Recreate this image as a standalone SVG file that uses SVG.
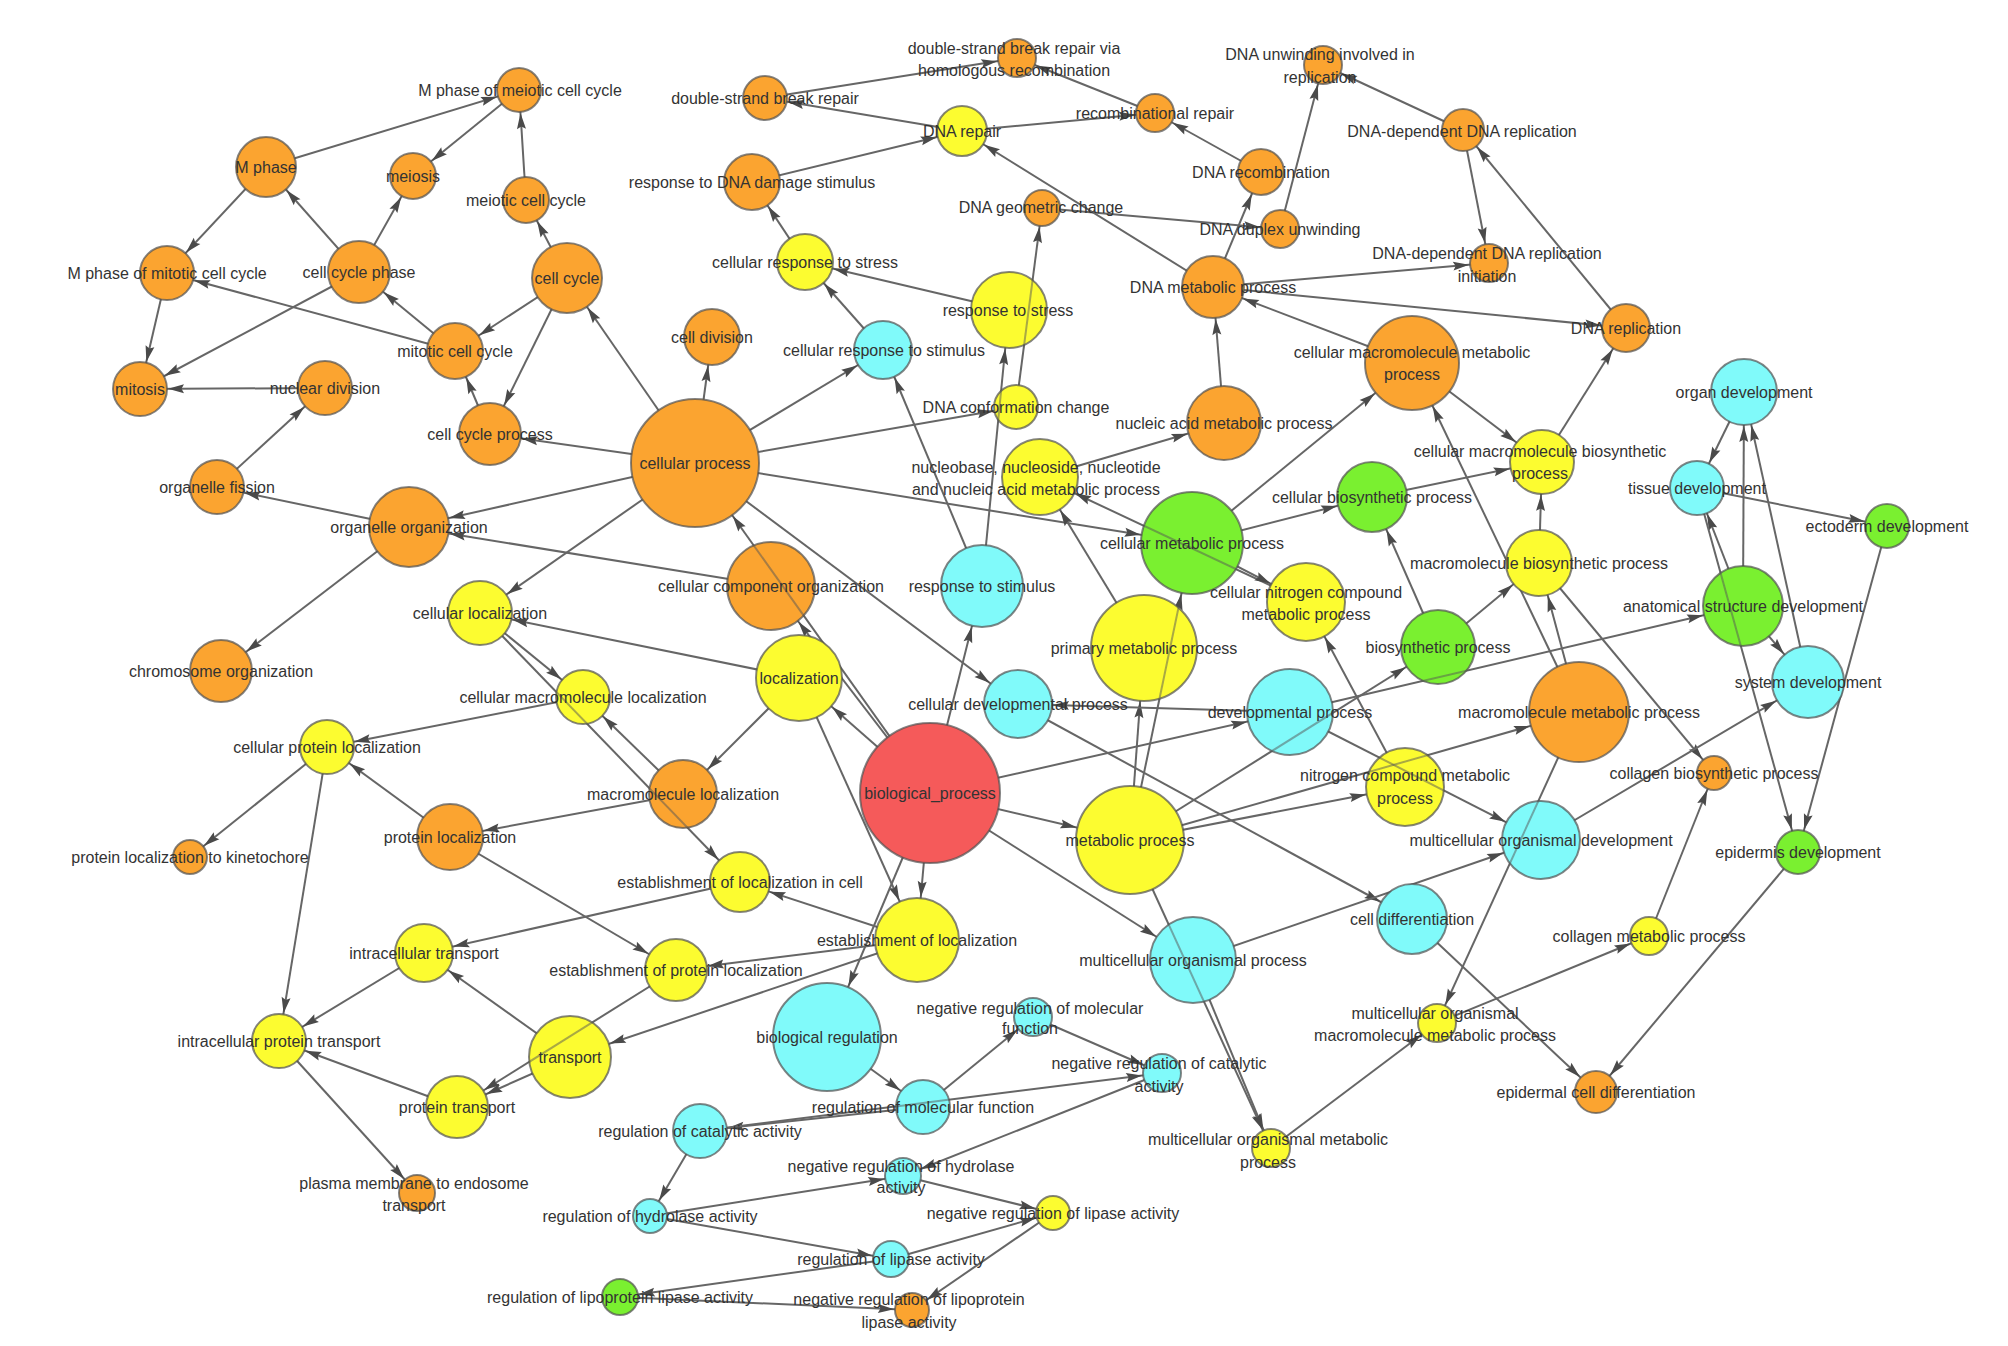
<svg xmlns="http://www.w3.org/2000/svg" xmlns:xlink="http://www.w3.org/1999/xlink" width="2008" height="1346" viewBox="0 0 2008 1346">
<style>
circle{stroke:#505050;stroke-opacity:.7;stroke-width:2}
.o{fill:#FBA430}.y{fill:#FCFC30}.c{fill:#80FAFA}.g{fill:#7AF030}.r{fill:#F55A5A}
text{font-family:"Liberation Sans",Arial,sans-serif;font-size:16px;fill:#333;text-anchor:middle}
#edges line{stroke:#666;stroke-width:2;fill:none}
line.pt{stroke:#555;stroke-width:2;stroke-opacity:.5}
</style>
<defs>
<path id="ah" d="M0,0.5 L16,5 L0,9.5 L2.5,5 z" fill="#4a4a4a"/>
<marker id="m17" markerUnits="userSpaceOnUse" markerWidth="16" markerHeight="10" refX="34" refY="5" orient="auto" overflow="visible"><use xlink:href="#ah"/></marker>
<marker id="m18" markerUnits="userSpaceOnUse" markerWidth="16" markerHeight="10" refX="35" refY="5" orient="auto" overflow="visible"><use xlink:href="#ah"/></marker>
<marker id="m19" markerUnits="userSpaceOnUse" markerWidth="16" markerHeight="10" refX="36" refY="5" orient="auto" overflow="visible"><use xlink:href="#ah"/></marker>
<marker id="m21" markerUnits="userSpaceOnUse" markerWidth="16" markerHeight="10" refX="38" refY="5" orient="auto" overflow="visible"><use xlink:href="#ah"/></marker>
<marker id="m22" markerUnits="userSpaceOnUse" markerWidth="16" markerHeight="10" refX="39" refY="5" orient="auto" overflow="visible"><use xlink:href="#ah"/></marker>
<marker id="m23" markerUnits="userSpaceOnUse" markerWidth="16" markerHeight="10" refX="40" refY="5" orient="auto" overflow="visible"><use xlink:href="#ah"/></marker>
<marker id="m24" markerUnits="userSpaceOnUse" markerWidth="16" markerHeight="10" refX="41" refY="5" orient="auto" overflow="visible"><use xlink:href="#ah"/></marker>
<marker id="m25" markerUnits="userSpaceOnUse" markerWidth="16" markerHeight="10" refX="42" refY="5" orient="auto" overflow="visible"><use xlink:href="#ah"/></marker>
<marker id="m27" markerUnits="userSpaceOnUse" markerWidth="16" markerHeight="10" refX="44" refY="5" orient="auto" overflow="visible"><use xlink:href="#ah"/></marker>
<marker id="m28" markerUnits="userSpaceOnUse" markerWidth="16" markerHeight="10" refX="45" refY="5" orient="auto" overflow="visible"><use xlink:href="#ah"/></marker>
<marker id="m29" markerUnits="userSpaceOnUse" markerWidth="16" markerHeight="10" refX="46" refY="5" orient="auto" overflow="visible"><use xlink:href="#ah"/></marker>
<marker id="m30" markerUnits="userSpaceOnUse" markerWidth="16" markerHeight="10" refX="47" refY="5" orient="auto" overflow="visible"><use xlink:href="#ah"/></marker>
<marker id="m31" markerUnits="userSpaceOnUse" markerWidth="16" markerHeight="10" refX="48" refY="5" orient="auto" overflow="visible"><use xlink:href="#ah"/></marker>
<marker id="m32" markerUnits="userSpaceOnUse" markerWidth="16" markerHeight="10" refX="49" refY="5" orient="auto" overflow="visible"><use xlink:href="#ah"/></marker>
<marker id="m33" markerUnits="userSpaceOnUse" markerWidth="16" markerHeight="10" refX="50" refY="5" orient="auto" overflow="visible"><use xlink:href="#ah"/></marker>
<marker id="m34" markerUnits="userSpaceOnUse" markerWidth="16" markerHeight="10" refX="51" refY="5" orient="auto" overflow="visible"><use xlink:href="#ah"/></marker>
<marker id="m35" markerUnits="userSpaceOnUse" markerWidth="16" markerHeight="10" refX="52" refY="5" orient="auto" overflow="visible"><use xlink:href="#ah"/></marker>
<marker id="m36" markerUnits="userSpaceOnUse" markerWidth="16" markerHeight="10" refX="53" refY="5" orient="auto" overflow="visible"><use xlink:href="#ah"/></marker>
<marker id="m37" markerUnits="userSpaceOnUse" markerWidth="16" markerHeight="10" refX="54" refY="5" orient="auto" overflow="visible"><use xlink:href="#ah"/></marker>
<marker id="m38" markerUnits="userSpaceOnUse" markerWidth="16" markerHeight="10" refX="55" refY="5" orient="auto" overflow="visible"><use xlink:href="#ah"/></marker>
<marker id="m39" markerUnits="userSpaceOnUse" markerWidth="16" markerHeight="10" refX="56" refY="5" orient="auto" overflow="visible"><use xlink:href="#ah"/></marker>
<marker id="m40" markerUnits="userSpaceOnUse" markerWidth="16" markerHeight="10" refX="57" refY="5" orient="auto" overflow="visible"><use xlink:href="#ah"/></marker>
<marker id="m41" markerUnits="userSpaceOnUse" markerWidth="16" markerHeight="10" refX="58" refY="5" orient="auto" overflow="visible"><use xlink:href="#ah"/></marker>
<marker id="m42" markerUnits="userSpaceOnUse" markerWidth="16" markerHeight="10" refX="59" refY="5" orient="auto" overflow="visible"><use xlink:href="#ah"/></marker>
<marker id="m43" markerUnits="userSpaceOnUse" markerWidth="16" markerHeight="10" refX="60" refY="5" orient="auto" overflow="visible"><use xlink:href="#ah"/></marker>
<marker id="m44" markerUnits="userSpaceOnUse" markerWidth="16" markerHeight="10" refX="61" refY="5" orient="auto" overflow="visible"><use xlink:href="#ah"/></marker>
<marker id="m47" markerUnits="userSpaceOnUse" markerWidth="16" markerHeight="10" refX="64" refY="5" orient="auto" overflow="visible"><use xlink:href="#ah"/></marker>
<marker id="m50" markerUnits="userSpaceOnUse" markerWidth="16" markerHeight="10" refX="67" refY="5" orient="auto" overflow="visible"><use xlink:href="#ah"/></marker>
<marker id="m51" markerUnits="userSpaceOnUse" markerWidth="16" markerHeight="10" refX="68" refY="5" orient="auto" overflow="visible"><use xlink:href="#ah"/></marker>
<marker id="m53" markerUnits="userSpaceOnUse" markerWidth="16" markerHeight="10" refX="70" refY="5" orient="auto" overflow="visible"><use xlink:href="#ah"/></marker>
<marker id="m54" markerUnits="userSpaceOnUse" markerWidth="16" markerHeight="10" refX="71" refY="5" orient="auto" overflow="visible"><use xlink:href="#ah"/></marker>
<marker id="m64" markerUnits="userSpaceOnUse" markerWidth="16" markerHeight="10" refX="81" refY="5" orient="auto" overflow="visible"><use xlink:href="#ah"/></marker>
<clipPath id="k-ccorg"><circle cx="771" cy="586" r="44"/></clipPath>
<clipPath id="k-cml"><circle cx="583" cy="697" r="27"/></clipPath>
<clipPath id="k-ml"><circle cx="683" cy="794" r="34"/></clipPath>
<clipPath id="k-transport"><circle cx="570" cy="1057" r="41"/></clipPath>
<clipPath id="k-pmp"><circle cx="1144" cy="648" r="53"/></clipPath>
<clipPath id="k-devp"><circle cx="1290" cy="712" r="43"/></clipPath>
<clipPath id="k-ncmp"><circle cx="1405" cy="787" r="39"/></clipPath>
<clipPath id="k-mod"><circle cx="1541" cy="840" r="39"/></clipPath>
<clipPath id="k-mop"><circle cx="1193" cy="960" r="43"/></clipPath>
<clipPath id="k-asd"><circle cx="1743" cy="606" r="40"/></clipPath>
<clipPath id="k-cmp"><circle cx="1192" cy="543" r="51"/></clipPath>
<clipPath id="k-rmf"><circle cx="923" cy="1107" r="27"/></clipPath>
<clipPath id="k-biosyn"><circle cx="1438" cy="647" r="37"/></clipPath>
<clipPath id="k-rstress"><circle cx="1009" cy="310" r="38"/></clipPath>
<clipPath id="k-dnaconf"><circle cx="1016" cy="407" r="22"/></clipPath>
</defs>
<rect width="2008" height="1346" fill="#fff"/>
<g id="edges">
<line x1="266" y1="167" x2="519" y2="90" marker-end="url(#m22)"/>
<line x1="519" y1="90" x2="413" y2="176" marker-end="url(#m23)"/>
<line x1="526" y1="200" x2="519" y2="90" marker-end="url(#m22)"/>
<line x1="266" y1="167" x2="167" y2="273" marker-end="url(#m27)"/>
<line x1="359" y1="272" x2="266" y2="167" marker-end="url(#m30)"/>
<line x1="359" y1="272" x2="413" y2="176" marker-end="url(#m23)"/>
<line x1="359" y1="272" x2="140" y2="389" marker-end="url(#m27)"/>
<line x1="455" y1="351" x2="167" y2="273" marker-end="url(#m27)"/>
<line x1="455" y1="351" x2="359" y2="272" marker-end="url(#m31)"/>
<line x1="167" y1="273" x2="140" y2="389" marker-end="url(#m27)"/>
<line x1="325" y1="388" x2="140" y2="389" marker-end="url(#m27)"/>
<line x1="217" y1="487" x2="325" y2="388" marker-end="url(#m27)"/>
<line x1="567" y1="278" x2="526" y2="200" marker-end="url(#m23)"/>
<line x1="567" y1="278" x2="455" y2="351" marker-end="url(#m28)"/>
<line x1="567" y1="278" x2="490" y2="434" marker-end="url(#m31)"/>
<line x1="490" y1="434" x2="455" y2="351" marker-end="url(#m28)"/>
<line x1="695" y1="463" x2="567" y2="278" marker-end="url(#m35)"/>
<line x1="695" y1="463" x2="712" y2="337" marker-end="url(#m28)"/>
<line x1="695" y1="463" x2="490" y2="434" marker-end="url(#m31)"/>
<line x1="695" y1="463" x2="883" y2="350" marker-end="url(#m29)"/>
<line x1="695" y1="463" x2="1016" y2="407" marker-end="url(#m22)"/>
<line x1="695" y1="463" x2="409" y2="527" marker-end="url(#m40)"/>
<line x1="771" y1="586" x2="409" y2="527" marker-end="url(#m40)"/>
<line x1="409" y1="527" x2="217" y2="487" marker-end="url(#m27)"/>
<line x1="409" y1="527" x2="221" y2="671" marker-end="url(#m31)"/>
<line x1="695" y1="463" x2="480" y2="613" marker-end="url(#m32)"/>
<line x1="695" y1="463" x2="1192" y2="543" marker-end="url(#m51)"/>
<line x1="695" y1="463" x2="1018" y2="704" marker-end="url(#m34)"/>
<line x1="930" y1="793" x2="695" y2="463" marker-end="url(#m64)"/>
<line x1="930" y1="793" x2="771" y2="586" marker-end="url(#m44)"/>
<line x1="799" y1="678" x2="480" y2="613" marker-end="url(#m32)"/>
<line x1="480" y1="613" x2="583" y2="697" marker-end="url(#m27)"/>
<line x1="480" y1="613" x2="740" y2="882" marker-end="url(#m30)"/>
<line x1="683" y1="794" x2="583" y2="697" marker-end="url(#m27)"/>
<line x1="799" y1="678" x2="683" y2="794" marker-end="url(#m34)"/>
<line x1="683" y1="794" x2="450" y2="837" marker-end="url(#m33)"/>
<line x1="450" y1="837" x2="327" y2="747" marker-end="url(#m27)"/>
<line x1="583" y1="697" x2="327" y2="747" marker-end="url(#m27)"/>
<line x1="327" y1="747" x2="190" y2="857" marker-end="url(#m17)"/>
<line x1="327" y1="747" x2="279" y2="1041" marker-end="url(#m27)"/>
<line x1="450" y1="837" x2="676" y2="970" marker-end="url(#m31)"/>
<line x1="740" y1="882" x2="424" y2="953" marker-end="url(#m29)"/>
<line x1="424" y1="953" x2="279" y2="1041" marker-end="url(#m27)"/>
<line x1="570" y1="1057" x2="424" y2="953" marker-end="url(#m29)"/>
<line x1="457" y1="1107" x2="279" y2="1041" marker-end="url(#m27)"/>
<line x1="279" y1="1041" x2="417" y2="1193" marker-end="url(#m18)"/>
<line x1="570" y1="1057" x2="457" y2="1107" marker-end="url(#m31)"/>
<line x1="676" y1="970" x2="457" y2="1107" marker-end="url(#m31)"/>
<line x1="917" y1="940" x2="676" y2="970" marker-end="url(#m31)"/>
<line x1="917" y1="940" x2="570" y2="1057" marker-end="url(#m41)"/>
<line x1="917" y1="940" x2="740" y2="882" marker-end="url(#m30)"/>
<line x1="799" y1="678" x2="917" y2="940" marker-end="url(#m42)"/>
<line x1="930" y1="793" x2="917" y2="940" marker-end="url(#m42)"/>
<line x1="930" y1="793" x2="827" y2="1037" marker-end="url(#m54)"/>
<line x1="930" y1="793" x2="799" y2="678" marker-end="url(#m43)"/>
<line x1="930" y1="793" x2="982" y2="586" marker-end="url(#m41)"/>
<line x1="930" y1="793" x2="1290" y2="712" marker-end="url(#m43)"/>
<line x1="930" y1="793" x2="1130" y2="840" marker-end="url(#m54)"/>
<line x1="930" y1="793" x2="1193" y2="960" marker-end="url(#m43)"/>
<line x1="827" y1="1037" x2="923" y2="1107" marker-end="url(#m27)"/>
<line x1="923" y1="1107" x2="700" y2="1131" marker-end="url(#m27)"/>
<line x1="700" y1="1131" x2="1162" y2="1073" marker-end="url(#m19)"/>
<line x1="923" y1="1107" x2="1033" y2="1017" marker-end="url(#m19)"/>
<line x1="1033" y1="1017" x2="1162" y2="1073" marker-end="url(#m19)"/>
<line x1="700" y1="1131" x2="650" y2="1216" marker-end="url(#m17)"/>
<line x1="650" y1="1216" x2="903" y2="1176" marker-end="url(#m18)"/>
<line x1="1162" y1="1073" x2="903" y2="1176" marker-end="url(#m18)"/>
<line x1="650" y1="1216" x2="891" y2="1259" marker-end="url(#m18)"/>
<line x1="903" y1="1176" x2="1053" y2="1213" marker-end="url(#m17)"/>
<line x1="891" y1="1259" x2="1053" y2="1213" marker-end="url(#m17)"/>
<line x1="891" y1="1259" x2="620" y2="1297" marker-end="url(#m18)"/>
<line x1="620" y1="1297" x2="912" y2="1310" marker-end="url(#m17)"/>
<line x1="1053" y1="1213" x2="912" y2="1310" marker-end="url(#m17)"/>
<line x1="962" y1="131" x2="765" y2="98" marker-end="url(#m22)"/>
<line x1="752" y1="182" x2="962" y2="131" marker-end="url(#m25)"/>
<line x1="1155" y1="113" x2="1017" y2="58" marker-end="url(#m19)"/>
<line x1="765" y1="98" x2="1017" y2="58" marker-end="url(#m19)"/>
<line x1="962" y1="131" x2="1155" y2="113" marker-end="url(#m19)"/>
<line x1="1261" y1="172" x2="1155" y2="113" marker-end="url(#m19)"/>
<line x1="1213" y1="287" x2="962" y2="131" marker-end="url(#m25)"/>
<line x1="805" y1="262" x2="752" y2="182" marker-end="url(#m28)"/>
<line x1="1009" y1="310" x2="805" y2="262" marker-end="url(#m28)"/>
<line x1="883" y1="350" x2="805" y2="262" marker-end="url(#m28)"/>
<line x1="982" y1="586" x2="883" y2="350" marker-end="url(#m29)"/>
<line x1="982" y1="586" x2="1009" y2="310" marker-end="url(#m38)"/>
<line x1="1016" y1="407" x2="1042" y2="208" marker-end="url(#m18)"/>
<line x1="1042" y1="208" x2="1280" y2="229" marker-end="url(#m19)"/>
<line x1="1213" y1="287" x2="1261" y2="172" marker-end="url(#m23)"/>
<line x1="1280" y1="229" x2="1323" y2="65" marker-end="url(#m19)"/>
<line x1="1463" y1="130" x2="1323" y2="65" marker-end="url(#m19)"/>
<line x1="1463" y1="130" x2="1489" y2="263" marker-end="url(#m19)"/>
<line x1="1626" y1="328" x2="1463" y2="130" marker-end="url(#m21)"/>
<line x1="1213" y1="287" x2="1489" y2="263" marker-end="url(#m19)"/>
<line x1="1213" y1="287" x2="1626" y2="328" marker-end="url(#m24)"/>
<line x1="1224" y1="423" x2="1213" y2="287" marker-end="url(#m31)"/>
<line x1="1412" y1="363" x2="1213" y2="287" marker-end="url(#m31)"/>
<line x1="1040" y1="477" x2="1224" y2="423" marker-end="url(#m37)"/>
<line x1="1192" y1="543" x2="1412" y2="363" marker-end="url(#m47)"/>
<line x1="1412" y1="363" x2="1542" y2="462" marker-end="url(#m32)"/>
<line x1="1542" y1="462" x2="1626" y2="328" marker-end="url(#m24)"/>
<line x1="1579" y1="712" x2="1412" y2="363" marker-end="url(#m47)"/>
<line x1="1579" y1="712" x2="1539" y2="563" marker-end="url(#m33)"/>
<line x1="1539" y1="563" x2="1542" y2="462" marker-end="url(#m32)"/>
<line x1="1372" y1="497" x2="1542" y2="462" marker-end="url(#m32)"/>
<line x1="1192" y1="543" x2="1372" y2="497" marker-end="url(#m35)"/>
<line x1="1438" y1="647" x2="1372" y2="497" marker-end="url(#m35)"/>
<line x1="1438" y1="647" x2="1539" y2="563" marker-end="url(#m33)"/>
<line x1="1306" y1="602" x2="1040" y2="477" marker-end="url(#m38)"/>
<line x1="1192" y1="543" x2="1306" y2="602" marker-end="url(#m39)"/>
<line x1="1144" y1="648" x2="1040" y2="477" marker-end="url(#m38)"/>
<line x1="1130" y1="840" x2="1144" y2="648" marker-end="url(#m53)"/>
<line x1="1130" y1="840" x2="1192" y2="543" marker-end="url(#m51)"/>
<line x1="1130" y1="840" x2="1438" y2="647" marker-end="url(#m37)"/>
<line x1="1130" y1="840" x2="1405" y2="787" marker-end="url(#m39)"/>
<line x1="1130" y1="840" x2="1579" y2="712" marker-end="url(#m50)"/>
<line x1="1405" y1="787" x2="1306" y2="602" marker-end="url(#m39)"/>
<line x1="1290" y1="712" x2="1541" y2="840" marker-end="url(#m39)"/>
<line x1="1290" y1="712" x2="1018" y2="704" marker-end="url(#m34)"/>
<line x1="1290" y1="712" x2="1743" y2="606" marker-end="url(#m40)"/>
<line x1="1018" y1="704" x2="1412" y2="919" marker-end="url(#m35)"/>
<line x1="1412" y1="919" x2="1596" y2="1092" marker-end="url(#m21)"/>
<line x1="1798" y1="852" x2="1596" y2="1092" marker-end="url(#m21)"/>
<line x1="1437" y1="1023" x2="1649" y2="936" marker-end="url(#m19)"/>
<line x1="1649" y1="936" x2="1714" y2="773" marker-end="url(#m17)"/>
<line x1="1539" y1="563" x2="1714" y2="773" marker-end="url(#m17)"/>
<line x1="1541" y1="840" x2="1808" y2="682" marker-end="url(#m36)"/>
<line x1="1579" y1="712" x2="1437" y2="1023" marker-end="url(#m19)"/>
<line x1="1271" y1="1148" x2="1437" y2="1023" marker-end="url(#m19)"/>
<line x1="1193" y1="960" x2="1271" y2="1148" marker-end="url(#m19)"/>
<line x1="1130" y1="840" x2="1271" y2="1148" marker-end="url(#m19)"/>
<line x1="1193" y1="960" x2="1541" y2="840" marker-end="url(#m39)"/>
<line x1="1743" y1="606" x2="1744" y2="392" marker-end="url(#m33)"/>
<line x1="1808" y1="682" x2="1744" y2="392" marker-end="url(#m33)"/>
<line x1="1744" y1="392" x2="1697" y2="488" marker-end="url(#m27)"/>
<line x1="1743" y1="606" x2="1697" y2="488" marker-end="url(#m27)"/>
<line x1="1697" y1="488" x2="1798" y2="852" marker-end="url(#m22)"/>
<line x1="1697" y1="488" x2="1887" y2="526" marker-end="url(#m22)"/>
<line x1="1887" y1="526" x2="1798" y2="852" marker-end="url(#m22)"/>
<line x1="1743" y1="606" x2="1808" y2="682" marker-end="url(#m36)"/>
</g>
<g id="nodes">
<g id="n-m-phase-of-meiotic-cell-cycle"><circle class="o" cx="519" cy="90" r="22"/><text x="520" y="95.5">M phase of meiotic cell cycle</text></g>
<g id="n-m-phase"><circle class="o" cx="266" cy="167" r="30"/><text x="266" y="172.5">M phase</text></g>
<g id="n-meiosis"><circle class="o" cx="413" cy="176" r="23"/><text x="413" y="181.5">meiosis</text></g>
<g id="n-meiotic-cell-cycle"><circle class="o" cx="526" cy="200" r="23"/><text x="526" y="205.5">meiotic cell cycle</text></g>
<g id="n-m-phase-of-mitotic-cell-cycle"><circle class="o" cx="167" cy="273" r="27"/><text x="167" y="278.5">M phase of mitotic cell cycle</text></g>
<g id="n-cell-cycle-phase"><circle class="o" cx="359" cy="272" r="31"/><text x="359" y="277.5">cell cycle phase</text></g>
<g id="n-cell-cycle"><circle class="o" cx="567" cy="278" r="35"/><text x="567" y="283.5">cell cycle</text></g>
<g id="n-mitosis"><circle class="o" cx="140" cy="389" r="27"/><text x="140" y="394.5">mitosis</text></g>
<g id="n-nuclear-division"><circle class="o" cx="325" cy="388" r="27"/><text x="325" y="393.5">nuclear division</text></g>
<g id="n-mitotic-cell-cycle"><circle class="o" cx="455" cy="351" r="28"/><text x="455" y="356.5">mitotic cell cycle</text></g>
<g id="n-cell-cycle-process"><circle class="o" cx="490" cy="434" r="31"/><text x="490" y="439.5">cell cycle process</text></g>
<g id="n-cell-division"><circle class="o" cx="712" cy="337" r="28"/><text x="712" y="342.5">cell division</text></g>
<g id="n-cellular-process"><circle class="o" cx="695" cy="463" r="64"/><text x="695" y="468.5">cellular process</text></g>
<g id="n-organelle-fission"><circle class="o" cx="217" cy="487" r="27"/><text x="217" y="492.5">organelle fission</text></g>
<g id="n-organelle-organization"><circle class="o" cx="409" cy="527" r="40"/><text x="409" y="532.5">organelle organization</text></g>
<g id="n-chromosome-organization"><circle class="o" cx="221" cy="671" r="31"/><text x="221" y="676.5">chromosome organization</text></g>
<g id="n-cellular-localization"><circle class="y" cx="480" cy="613" r="32"/><text x="480" y="618.5">cellular localization</text></g>
<g id="n-cellular-component-organization"><circle class="o" cx="771" cy="586" r="44"/><line class="pt" x1="930" y1="793" x2="695" y2="463" clip-path="url(#k-ccorg)"/><text x="771" y="591.5">cellular component organization</text></g>
<g id="n-localization"><circle class="y" cx="799" cy="678" r="43"/><text x="799" y="683.5">localization</text></g>
<g id="n-cellular-macromolecule-localization"><circle class="y" cx="583" cy="697" r="27"/><line class="pt" x1="480" y1="613" x2="740" y2="882" clip-path="url(#k-cml)"/><text x="583" y="702.5">cellular macromolecule localization</text></g>
<g id="n-cellular-protein-localization"><circle class="y" cx="327" cy="747" r="27"/><text x="327" y="752.5">cellular protein localization</text></g>
<g id="n-macromolecule-localization"><circle class="o" cx="683" cy="794" r="34"/><line class="pt" x1="480" y1="613" x2="740" y2="882" clip-path="url(#k-ml)"/><text x="683" y="799.5">macromolecule localization</text></g>
<g id="n-protein-localization"><circle class="o" cx="450" cy="837" r="33"/><text x="450" y="842.5">protein localization</text></g>
<g id="n-protein-localization-to-kinetochore"><circle class="o" cx="190" cy="857" r="17"/><text x="190" y="862.5">protein localization to kinetochore</text></g>
<g id="n-establishment-of-localization-in-cell"><circle class="y" cx="740" cy="882" r="30"/><text x="740" y="887.5">establishment of localization in cell</text></g>
<g id="n-biological-process"><circle class="r" cx="930" cy="793" r="70"/><text x="930" y="798.5">biological_process</text></g>
<g id="n-establishment-of-localization"><circle class="y" cx="917" cy="940" r="42"/><text x="917" y="945.5">establishment of localization</text></g>
<g id="n-establishment-of-protein-localization"><circle class="y" cx="676" cy="970" r="31"/><text x="676" y="975.5">establishment of protein localization</text></g>
<g id="n-intracellular-transport"><circle class="y" cx="424" cy="953" r="29"/><text x="424" y="958.5">intracellular transport</text></g>
<g id="n-intracellular-protein-transport"><circle class="y" cx="279" cy="1041" r="27"/><text x="279" y="1046.5">intracellular protein transport</text></g>
<g id="n-transport"><circle class="y" cx="570" cy="1057" r="41"/><line class="pt" x1="676" y1="970" x2="457" y2="1107" clip-path="url(#k-transport)"/><text x="570" y="1062.5">transport</text></g>
<g id="n-protein-transport"><circle class="y" cx="457" cy="1107" r="31"/><text x="457" y="1112.5">protein transport</text></g>
<g id="n-plasma-membrane-to-endosome-transport"><circle class="o" cx="417" cy="1193" r="18"/><text x="414" y="1188.5">plasma membrane to endosome</text><text x="414" y="1210.5">transport</text></g>
<g id="n-biological-regulation"><circle class="c" cx="827" cy="1037" r="54"/><text x="827" y="1042.5">biological regulation</text></g>
<g id="n-regulation-of-molecular-function"><circle class="c" cx="923" cy="1107" r="27"/><line class="pt" x1="700" y1="1131" x2="1162" y2="1073" clip-path="url(#k-rmf)"/><text x="923" y="1112.5">regulation of molecular function</text></g>
<g id="n-regulation-of-catalytic-activity"><circle class="c" cx="700" cy="1131" r="27"/><text x="700" y="1136.5">regulation of catalytic activity</text></g>
<g id="n-negative-regulation-of-hydrolase-activity"><circle class="c" cx="903" cy="1176" r="18"/><text x="901" y="1171.5">negative regulation of hydrolase</text><text x="901" y="1192.5">activity</text></g>
<g id="n-regulation-of-hydrolase-activity"><circle class="c" cx="650" cy="1216" r="17"/><text x="650" y="1221.5">regulation of hydrolase activity</text></g>
<g id="n-regulation-of-lipase-activity"><circle class="c" cx="891" cy="1259" r="18"/><text x="891" y="1264.5">regulation of lipase activity</text></g>
<g id="n-regulation-of-lipoprotein-lipase-activity"><circle class="g" cx="620" cy="1297" r="18"/><text x="620" y="1302.5">regulation of lipoprotein lipase activity</text></g>
<g id="n-negative-regulation-of-lipoprotein-lipase-activity"><circle class="o" cx="912" cy="1310" r="17"/><text x="909" y="1304.5">negative regulation of lipoprotein</text><text x="909" y="1327.5">lipase activity</text></g>
<g id="n-negative-regulation-of-lipase-activity"><circle class="y" cx="1053" cy="1213" r="17"/><text x="1053" y="1218.5">negative regulation of lipase activity</text></g>
<g id="n-negative-regulation-of-molecular-function"><circle class="c" cx="1033" cy="1017" r="19"/><text x="1030" y="1013.5">negative regulation of molecular</text><text x="1030" y="1033.5">function</text></g>
<g id="n-negative-regulation-of-catalytic-activity"><circle class="c" cx="1162" cy="1073" r="19"/><text x="1159" y="1068.5">negative regulation of catalytic</text><text x="1159" y="1091.5">activity</text></g>
<g id="n-multicellular-organismal-process"><circle class="c" cx="1193" cy="960" r="43"/><line class="pt" x1="1130" y1="840" x2="1271" y2="1148" clip-path="url(#k-mop)"/><text x="1193" y="965.5">multicellular organismal process</text></g>
<g id="n-multicellular-organismal-metabolic-process"><circle class="y" cx="1271" cy="1148" r="19"/><text x="1268" y="1144.5">multicellular organismal metabolic</text><text x="1268" y="1167.5">process</text></g>
<g id="n-multicellular-organismal-macromolecule-metabolic-process"><circle class="y" cx="1437" cy="1023" r="19"/><text x="1435" y="1018.5">multicellular organismal</text><text x="1435" y="1040.5">macromolecule metabolic process</text></g>
<g id="n-cell-differentiation"><circle class="c" cx="1412" cy="919" r="35"/><text x="1412" y="924.5">cell differentiation</text></g>
<g id="n-collagen-metabolic-process"><circle class="y" cx="1649" cy="936" r="19"/><text x="1649" y="941.5">collagen metabolic process</text></g>
<g id="n-epidermal-cell-differentiation"><circle class="o" cx="1596" cy="1092" r="21"/><text x="1596" y="1097.5">epidermal cell differentiation</text></g>
<g id="n-epidermis-development"><circle class="g" cx="1798" cy="852" r="22"/><text x="1798" y="857.5">epidermis development</text></g>
<g id="n-multicellular-organismal-development"><circle class="c" cx="1541" cy="840" r="39"/><line class="pt" x1="1579" y1="712" x2="1437" y2="1023" clip-path="url(#k-mod)"/><text x="1541" y="845.5">multicellular organismal development</text></g>
<g id="n-collagen-biosynthetic-process"><circle class="o" cx="1714" cy="773" r="17"/><text x="1714" y="778.5">collagen biosynthetic process</text></g>
<g id="n-macromolecule-metabolic-process"><circle class="o" cx="1579" cy="712" r="50"/><text x="1579" y="717.5">macromolecule metabolic process</text></g>
<g id="n-system-development"><circle class="c" cx="1808" cy="682" r="36"/><text x="1808" y="687.5">system development</text></g>
<g id="n-anatomical-structure-development"><circle class="g" cx="1743" cy="606" r="40"/><line class="pt" x1="1697" y1="488" x2="1798" y2="852" clip-path="url(#k-asd)"/><text x="1743" y="611.5">anatomical structure development</text></g>
<g id="n-macromolecule-biosynthetic-process"><circle class="y" cx="1539" cy="563" r="33"/><text x="1539" y="568.5">macromolecule biosynthetic process</text></g>
<g id="n-tissue-development"><circle class="c" cx="1697" cy="488" r="27"/><text x="1697" y="493.5">tissue development</text></g>
<g id="n-ectoderm-development"><circle class="g" cx="1887" cy="526" r="22"/><text x="1887" y="531.5">ectoderm development</text></g>
<g id="n-cellular-macromolecule-biosynthetic-process"><circle class="y" cx="1542" cy="462" r="32"/><text x="1540" y="456.5">cellular macromolecule biosynthetic</text><text x="1540" y="478.5">process</text></g>
<g id="n-organ-development"><circle class="c" cx="1744" cy="392" r="33"/><text x="1744" y="397.5">organ development</text></g>
<g id="n-dna-replication"><circle class="o" cx="1626" cy="328" r="24"/><text x="1626" y="333.5">DNA replication</text></g>
<g id="n-cellular-macromolecule-metabolic-process"><circle class="o" cx="1412" cy="363" r="47"/><text x="1412" y="357.5">cellular macromolecule metabolic</text><text x="1412" y="379.5">process</text></g>
<g id="n-nucleic-acid-metabolic-process"><circle class="o" cx="1224" cy="423" r="37"/><text x="1224" y="428.5">nucleic acid metabolic process</text></g>
<g id="n-dna-metabolic-process"><circle class="o" cx="1213" cy="287" r="31"/><text x="1213" y="292.5">DNA metabolic process</text></g>
<g id="n-dna-dependent-dna-replication-initiation"><circle class="o" cx="1489" cy="263" r="19"/><text x="1487" y="258.5">DNA-dependent DNA replication</text><text x="1487" y="281.5">initiation</text></g>
<g id="n-dna-dependent-dna-replication"><circle class="o" cx="1463" cy="130" r="21"/><text x="1462" y="136.5">DNA-dependent DNA replication</text></g>
<g id="n-dna-duplex-unwinding"><circle class="o" cx="1280" cy="229" r="19"/><text x="1280" y="234.5">DNA duplex unwinding</text></g>
<g id="n-dna-recombination"><circle class="o" cx="1261" cy="172" r="23"/><text x="1261" y="177.5">DNA recombination</text></g>
<g id="n-dna-geometric-change"><circle class="o" cx="1042" cy="208" r="18"/><text x="1041" y="213">DNA geometric change</text></g>
<g id="n-dna-unwinding-involved-in-replication"><circle class="o" cx="1323" cy="65" r="19"/><text x="1320" y="59.5">DNA unwinding involved in</text><text x="1320" y="82.5">replication</text></g>
<g id="n-recombinational-repair"><circle class="o" cx="1155" cy="113" r="19"/><text x="1155" y="118.5">recombinational repair</text></g>
<g id="n-double-strand-break-repair-via-homologous-recombination"><circle class="o" cx="1017" cy="58" r="19"/><text x="1014" y="53.5">double-strand break repair via</text><text x="1014" y="75.5">homologous recombination</text></g>
<g id="n-double-strand-break-repair"><circle class="o" cx="765" cy="98" r="22"/><text x="765" y="103.5">double-strand break repair</text></g>
<g id="n-dna-repair"><circle class="y" cx="962" cy="131" r="25"/><text x="962" y="136.5">DNA repair</text></g>
<g id="n-response-to-dna-damage-stimulus"><circle class="o" cx="752" cy="182" r="28"/><text x="752" y="187.5">response to DNA damage stimulus</text></g>
<g id="n-cellular-response-to-stress"><circle class="y" cx="805" cy="262" r="28"/><text x="805" y="267.5">cellular response to stress</text></g>
<g id="n-cellular-response-to-stimulus"><circle class="c" cx="883" cy="350" r="29"/><text x="884" y="355.5">cellular response to stimulus</text></g>
<g id="n-response-to-stress"><circle class="y" cx="1009" cy="310" r="38"/><line class="pt" x1="1016" y1="407" x2="1042" y2="208" clip-path="url(#k-rstress)"/><text x="1008" y="315.5">response to stress</text></g>
<g id="n-dna-conformation-change"><circle class="y" cx="1016" cy="407" r="22"/><line class="pt" x1="982" y1="586" x2="1009" y2="310" clip-path="url(#k-dnaconf)"/><text x="1016" y="412.5">DNA conformation change</text></g>
<g id="n-nucleobase-nucleoside-nucleotide-and-nucleic-acid-metabolic-process"><circle class="y" cx="1040" cy="477" r="38"/><text x="1036" y="472.5">nucleobase, nucleoside, nucleotide</text><text x="1036" y="494.5">and nucleic acid metabolic process</text></g>
<g id="n-response-to-stimulus"><circle class="c" cx="982" cy="586" r="41"/><text x="982" y="591.5">response to stimulus</text></g>
<g id="n-cellular-developmental-process"><circle class="c" cx="1018" cy="704" r="34"/><text x="1018" y="709.5">cellular developmental process</text></g>
<g id="n-cellular-metabolic-process"><circle class="g" cx="1192" cy="543" r="51"/><line class="pt" x1="1306" y1="602" x2="1040" y2="477" clip-path="url(#k-cmp)"/><text x="1192" y="548.5">cellular metabolic process</text></g>
<g id="n-cellular-biosynthetic-process"><circle class="g" cx="1372" cy="497" r="35"/><text x="1372" y="502.5">cellular biosynthetic process</text></g>
<g id="n-cellular-nitrogen-compound-metabolic-process"><circle class="y" cx="1306" cy="602" r="39"/><text x="1306" y="597.5">cellular nitrogen compound</text><text x="1306" y="619.5">metabolic process</text></g>
<g id="n-primary-metabolic-process"><circle class="y" cx="1144" cy="648" r="53"/><line class="pt" x1="1130" y1="840" x2="1192" y2="543" clip-path="url(#k-pmp)"/><text x="1144" y="653.5">primary metabolic process</text></g>
<g id="n-biosynthetic-process"><circle class="g" cx="1438" cy="647" r="37"/><line class="pt" x1="1290" y1="712" x2="1743" y2="606" clip-path="url(#k-biosyn)"/><text x="1438" y="652.5">biosynthetic process</text></g>
<g id="n-developmental-process"><circle class="c" cx="1290" cy="712" r="43"/><line class="pt" x1="1130" y1="840" x2="1438" y2="647" clip-path="url(#k-devp)"/><text x="1290" y="717.5">developmental process</text></g>
<g id="n-nitrogen-compound-metabolic-process"><circle class="y" cx="1405" cy="787" r="39"/><line class="pt" x1="1290" y1="712" x2="1541" y2="840" clip-path="url(#k-ncmp)"/><line class="pt" x1="1130" y1="840" x2="1579" y2="712" clip-path="url(#k-ncmp)"/><text x="1405" y="780.5">nitrogen compound metabolic</text><text x="1405" y="803.5">process</text></g>
<g id="n-metabolic-process"><circle class="y" cx="1130" cy="840" r="54"/><text x="1130" y="845.5">metabolic process</text></g>
</g>
</svg>
